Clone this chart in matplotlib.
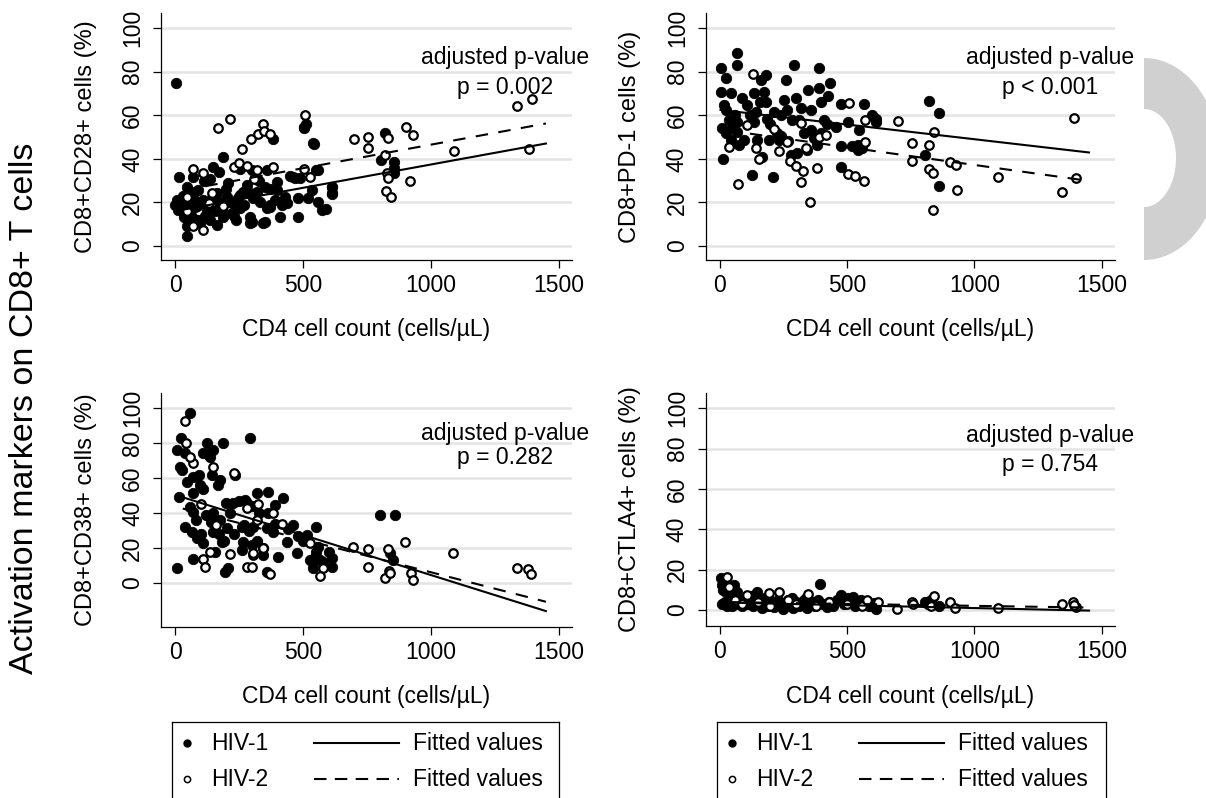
import numpy as np
import matplotlib
matplotlib.use("Agg")
import matplotlib.pyplot as plt
from matplotlib.patches import Polygon

plt.rcParams["font.family"] = ["Liberation Sans", "DejaVu Sans"]

W, H = 1206, 798

# ---- data: (CD4 count, % cells) ----
cd28_hiv1 = [(4, 75), (17, 31.5), (72, 31.5), (46, 27.3), (137, 30.9), (150, 36.3), (189, 41), (208, 28.7),
             (254, 35.2), (264, 25), (319, 25), (358, 34.8), (384, 48.9), (504, 54.4), (540, 47.1), (462, 31.5),
             (482, 21.9), (479, 13.5), (553, 34.8), (534, 25.6), (612, 27.1), (612, 24.2), (573, 16.4),
             (410, 13.5), (397, 29.2), (391, 21.1), (345, 10.4), (293, 13.5), (293, 10.4), (371, 18.8),
             (228, 19.9), (254, 17.6), (202, 22.7), (163, 24.2), (111, 21.1), (91, 25.6), (7, 21.1), (0, 18.8),
             (13, 16.4), (33, 13.5), (65, 13.5), (46, 9.0), (46, 4.4), (98, 10.4), (137, 12), (163, 9.6),
             (189, 13.5), (221, 15.0), (85, 18.2), (124, 16.6), (176, 18.8), (72, 22.7), (254, 23.4),
             (293, 24.2), (332, 20.4), (358, 17.3), (397, 25.6), (430, 22.7), (436, 19.6), (505, 54),
             (510, 56), (543, 47), (558, 34.9), (615, 27), (615, 24), (805, 39.4), (857, 38.7), (857, 35.6),
             (820, 51.7), (857, 33.3), (25, 19), (30, 23), (38, 17), (52, 20), (60, 15), (78, 18), (90, 12),
             (105, 20), (118, 14), (130, 18), (145, 22), (158, 16), (172, 20), (185, 17), (198, 26), (212, 20),
             (230, 14), (245, 22), (268, 19), (280, 28), (305, 22), (330, 30), (350, 27), (372, 26), (420, 19),
             (450, 32), (470, 31), (490, 31), (520, 22), (560, 20), (590, 17), (300, 11), (350, 11), (60, 25),
             (40, 22), (115, 30), (170, 34), (300, 35), (370, 18), (240, 12)]
cd28_hiv2 = [(46, 22.7), (48, 16), (69, 35.4), (72, 9.0), (108, 33.6), (111, 7.5), (134, 19.6), (143, 24.2),
             (169, 54.3), (189, 18.2), (215, 58.1), (230, 36.3), (251, 38.2), (260, 44.4), (280, 36.6),
             (295, 49.1), (310, 30.6), (322, 34.8), (325, 51.6), (342, 56.1), (349, 52.9), (372, 51.6),
             (384, 36.3), (504, 35.4), (508, 59.9), (527, 31.5), (699, 49.1), (755, 49.8), (755, 45.2),
             (820, 41.7), (824, 25.4), (827, 33.3), (834, 49.4), (834, 31), (845, 22.3), (902, 54.4), (920, 30),
             (929, 50.9), (1089, 43.7), (1335, 64.2), (1383, 44.5), (1395, 67.3)]

pd1_hiv1 = [(67, 88.7), (67, 83), (4, 81.5), (24, 77.3), (293, 83), (391, 81.5), (181, 78.4), (162, 76),
            (260, 76), (435, 74.6), (348, 71.5), (391, 72.3), (424, 68.8), (4, 70.8), (44, 70), (90, 67.7),
            (135, 70), (175, 70.8), (181, 66.2), (254, 67), (299, 67.7), (398, 66.2), (477, 65.1), (568, 65),
            (17, 64.6), (24, 62.4), (109, 64.6), (142, 61.6), (214, 61.6), (266, 62.4), (319, 63.2),
            (358, 62.4), (37, 57.8), (70, 57), (135, 57), (188, 58.5), (240, 60.1), (286, 57.8), (411, 57.8),
            (457, 54.7), (503, 57), (614, 58.5), (11, 54), (24, 51.7), (70, 52.4), (96, 48.8), (148, 48.8),
            (194, 48.8), (240, 50.3), (358, 53.2), (371, 49.5), (549, 53.2), (542, 46.3), (542, 44),
            (477, 45.8), (384, 46.3), (345, 44), (306, 42.5), (280, 41.8), (168, 41), (76, 46.3), (44, 48.8),
            (15, 39.7), (129, 32.7), (211, 31.6), (477, 36.2), (234, 48.8), (50, 54), (824, 66.7), (860, 61.2),
            (805, 41.7), (862, 27.5), (120, 60), (200, 56), (310, 58), (330, 52), (160, 66), (60, 60),
            (225, 52), (270, 48), (400, 52), (420, 56), (520, 46), (560, 45), (600, 60), (615, 57)]
pd1_hiv2 = [(131, 78.7), (509, 65.4), (572, 57.8), (700, 57.5), (107, 55.4), (214, 53.9), (319, 56.3),
            (37, 45.5), (142, 44.8), (234, 43.5), (264, 47.8), (391, 50), (418, 50.8), (339, 44.8), (572, 47.8),
            (155, 39.7), (277, 39.1), (299, 36.7), (326, 34.6), (382, 35.7), (319, 29.2), (506, 33.2),
            (532, 32), (566, 29.8), (72, 28.3), (356, 20.3), (843, 52.4), (757, 47.1), (823, 46.3), (757, 39.1),
            (904, 38.7), (927, 37.2), (822, 35.2), (838, 33.7), (930, 25.7), (1094, 31.8), (838, 16.5),
            (1391, 58.6), (1398, 31), (1345, 25)]

cd38_hiv1 = [(59, 97), (22, 82.7), (6, 76), (39, 74.3), (124, 79.8), (189, 79.8), (293, 82.7), (111, 74.3),
             (137, 72.2), (20, 66.5), (26, 64.6), (72, 60.8), (46, 58), (98, 56), (143, 61.7), (176, 59),
             (169, 56), (234, 61.7), (72, 51.2), (17, 49.3), (59, 43.6), (72, 40.8), (228, 45.5), (273, 47.4),
             (319, 51.2), (364, 51.8), (423, 48.4), (391, 44.6), (364, 39.8), (150, 39.8), (39, 32.2),
             (65, 29.3), (85, 25.5), (111, 22.7), (150, 29.3), (202, 31.2), (182, 23.6), (156, 17.9),
             (260, 32.2), (306, 32.2), (358, 31.2), (462, 33.1), (267, 23.6), (260, 18.8), (299, 21.7),
             (345, 19.8), (345, 16), (384, 29.3), (436, 23.6), (475, 16.9), (514, 27.4), (553, 32.2),
             (527, 13.2), (553, 17.9), (566, 13.2), (612, 14.1), (612, 9.4), (540, 8.4), (404, 15), (358, 6.5),
             (208, 8.4), (195, 6.5), (72, 13.9), (6, 8.6), (801, 38.9), (859, 38.9), (840, 17), (853, 13.2),
             (560, 20.8), (130, 74), (150, 76), (95, 62), (110, 54), (200, 46), (250, 47), (280, 46),
             (300, 44), (330, 40), (270, 33), (290, 30), (120, 39), (140, 35), (170, 28), (190, 24), (230, 28),
             (320, 24), (390, 34), (440, 31), (480, 27), (500, 24), (540, 14), (580, 12), (600, 18), (175, 36),
             (215, 40), (80, 36), (100, 28)]
cd38_hiv2 = [(39, 92.6), (72, 68.4), (150, 66.5), (326, 45.1), (384, 39.8), (322, 36), (417, 33.5), (111, 13.9),
             (117, 9.2), (137, 17.9), (215, 16.4), (280, 9.2), (299, 9.2), (306, 15.8), (371, 5.4), (527, 22.7),
             (580, 8.6), (566, 3.9), (697, 20.7), (755, 19.4), (755, 8.9), (833, 19.4), (837, 6.8), (820, 3.0),
             (898, 23.2), (1085, 17.3), (1335, 8.8), (1380, 7.9), (1393, 5.1), (921, 5.5), (929, 1.7),
             (842, 5.9), (42, 80), (60, 72), (100, 45), (160, 33), (232, 62.8), (281, 43), (303, 17), (345, 19.8)]

ctla4_hiv1 = [(4, 15.7), (11, 12.4), (57, 12.4), (70, 9.2), (148, 9.2), (395, 12.9), (477, 7.4), (522, 6.6),
              (608, 3.3), (616, 0.3), (828, 5), (10, 3), (20, 4), (25, 9), (30, 2), (35, 5), (40, 3), (45, 7),
              (50, 2), (60, 4), (65, 6), (75, 3), (80, 5), (90, 2), (100, 4), (110, 3), (120, 6), (130, 2),
              (140, 5), (155, 3), (165, 1), (175, 4), (185, 2), (195, 5), (205, 3), (215, 1.5), (225, 4),
              (240, 2.5), (250, 0.5), (260, 3), (270, 5), (280, 2), (290, 1), (300, 4), (310, 2), (320, 3),
              (330, 5), (345, 1), (355, 3), (365, 4), (375, 2), (385, 5), (405, 3), (420, 1.5), (430, 4),
              (445, 2), (460, 5), (490, 3), (505, 6), (530, 2), (540, 4), (555, 5), (570, 3), (585, 2),
              (805, 4), (820, 3), (860, 2), (15, 10), (45, 8), (85, 6), (125, 7), (180, 6), (230, 5), (285, 6),
              (340, 6)]
ctla4_hiv2 = [(30, 16.5), (37, 11.6), (109, 7.4), (194, 8.3), (234, 9.2), (348, 7.8), (621, 4.1), (697, 0.6),
              (754, 4.1), (841, 7.0), (903, 4.1), (925, 1.2), (1092, 0.8), (1343, 3.0), (1389, 4.1), (1400, 1.5),
              (60, 5), (90, 3), (150, 4), (200, 2), (270, 5), (300, 3), (380, 2), (430, 4), (500, 3), (560, 2),
              (580, 5), (760, 3), (830, 2), (1390, 2.5)]

# fitted lines: (intercept, slope) for HIV-1 / HIV-2
cd28_fit = [(16.0, 0.0214), (24.9, 0.0216)]
pd1_fit = [(62.5, -0.0135), (53.5, -0.0163)]
cd38_fit = [(50.4, -0.0458), (43.7, -0.0375)]
ctla4_fit = [(3.8, -0.0028), (4.0, -0.0019)]
fit_x = [[4, 1450], [30, 1450]]

p_values = ["p = 0.002", "p < 0.001", "p = 0.282", "p = 0.754"]
y_labels = ["CD8+CD28+ cells (%)", "CD8+PD-1 cells (%)", "CD8+CD38+ cells (%)", "CD8+CTLA4+ cells (%)"]

panels = [
    (cd28_hiv1, cd28_hiv2, cd28_fit, [161, 13, 572, 260], (-6.4, 106.9), (86.7, 72.9)),
    (pd1_hiv1, pd1_hiv2, pd1_fit, [705.5, 13, 1115, 260], (-6.4, 106.9), (86.7, 72.9)),
    (cd38_hiv1, cd38_hiv2, cd38_fit, [161, 393, 572, 627], (-25.1, 108.6), (85.7, 72.0)),
    (ctla4_hiv1, ctla4_hiv2, ctla4_fit, [705.5, 393, 1115, 626], (-7.9, 107.6), (86.3, 72.4)),
]

FS = 16.5

fig = plt.figure(figsize=(W / 100, H / 100), dpi=100)

for i, (g1, g2, fits, box, ylim, ptxt) in enumerate(panels):
    x0, y0, x1, y1 = box
    ax = fig.add_axes([x0 / W, 1 - y1 / H, (x1 - x0) / W, (y1 - y0) / H])
    ax.set_xlim(-55, 1552)
    ax.set_ylim(*ylim)
    ax.set_yticks([0, 20, 40, 60, 80, 100])
    ax.set_xticks([0, 500, 1000, 1500])
    ax.grid(axis="y", color="#e4e4e4", lw=1.8, zorder=0)
    ax.set_axisbelow(True)
    for s in ("top", "right"):
        ax.spines[s].set_visible(False)
    for s in ("left", "bottom"):
        ax.spines[s].set_linewidth(0.9)
    ax.tick_params(length=6, width=0.9, labelsize=FS, pad=4)
    ax.tick_params(axis="y", labelrotation=90, pad=6)
    for lab in ax.get_yticklabels():
        lab.set_va("center")

    a1 = np.array(g1, dtype=float)
    a2 = np.array(g2, dtype=float)
    ax.scatter(a1[:, 0], a1[:, 1], s=56, c="black", edgecolors="black", lw=0.6, zorder=3)
    ax.scatter(a2[:, 0], a2[:, 1], s=38, facecolors="white", edgecolors="black", lw=1.6, zorder=4)

    for (b0, b1), xr, ls in zip(fits, fit_x, ["-", (0, (6, 5))]):
        xx = np.array(xr, dtype=float)
        ax.plot(xx, b0 + b1 * xx, color="black", lw=1.5, ls=ls, zorder=5)

    tx = 1289 if i % 2 == 0 else 1297
    ax.text(tx, ptxt[0], "adjusted p-value", ha="center", va="center", fontsize=FS, zorder=6)
    ax.text(tx, ptxt[1], p_values[i], ha="center", va="center", fontsize=FS, zorder=6)

    ax.set_ylabel(y_labels[i], fontsize=17)
    ax.yaxis.set_label_coords(-0.155 if i % 2 == 0 else -0.158, 0.5)
    ax.set_xlabel("CD4 cell count (cells/\u00b5L)", fontsize=FS)
    ax.xaxis.set_label_coords(0.5, (y1 - (318 if i < 2 else 685)) / (y1 - y0))

fig.text(25 / W, 1 - 408 / H, "Activation markers on CD8+ T cells", rotation=90,
         ha="center", va="center", fontsize=24.5)

# legends (two boxes under the bottom panels)
for lx0, lx1 in [(172, 559), (717, 1106)]:
    lg = fig.add_axes([lx0 / W, -12 / H, (lx1 - lx0) / W, (88) / H])
    lg.set_xlim(0, lx1 - lx0)
    lg.set_ylim(0, 88)
    lg.set_xticks([])
    lg.set_yticks([])
    for s in lg.spines.values():
        s.set_linewidth(0.9)
    lg.plot([15], [88 - 21], "o", color="black", ms=5)
    lg.plot([15], [88 - 57], "o", mfc="white", mec="black", mew=1.1, ms=4.5)
    lg.text(39, 88 - 21, "HIV-1", va="center", fontsize=FS)
    lg.text(39, 88 - 57, "HIV-2", va="center", fontsize=FS)
    lg.plot([142, 227], [88 - 21, 88 - 21], color="black", lw=1.5)
    lg.plot([142, 227], [88 - 57, 88 - 57], color="black", lw=1.5, ls=(0, (6, 4)))
    lg.text(241, 88 - 21, "Fitted values", va="center", fontsize=FS)
    lg.text(241, 88 - 57, "Fitted values", va="center", fontsize=FS)

# grey bracket on the right edge
t = np.linspace(-np.pi / 2, np.pi / 2, 80)
outer = np.c_[1144 + 76 * np.cos(t), 159 + 101 * np.sin(t)]
inner = np.c_[1144 + 32 * np.cos(t[::-1]), 158 + 49 * np.sin(t[::-1])]
pts = np.vstack([outer, inner])
pts = np.c_[pts[:, 0] / W, 1 - pts[:, 1] / H]
fig.patches.append(Polygon(pts, closed=True, facecolor="#d0d0d0", edgecolor="none",
                           transform=fig.transFigure, figure=fig))

fig.savefig("out.png", dpi=100)
